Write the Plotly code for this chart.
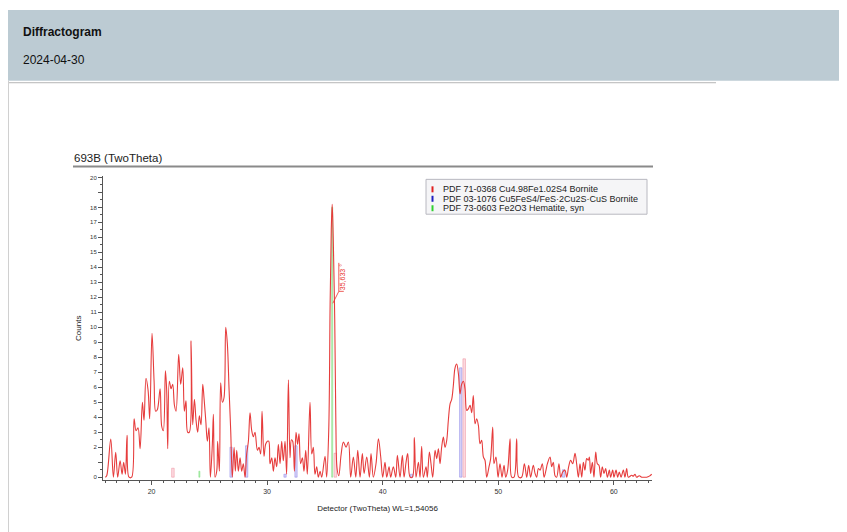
import plotly.graph_objects as go

# measured pattern (2theta in degrees, counts)
two_theta = [
    16.00, 16.12, 16.47, 16.70, 16.90, 17.07, 17.28, 17.45, 17.59, 17.74, 17.88, 18.05, 18.28, 18.49, 18.66, 18.83,
    19.01, 19.21, 19.35, 19.52, 19.70, 19.84, 20.04, 20.22, 20.36, 20.50, 20.74, 20.88, 21.02, 21.20, 21.31, 21.40,
    21.54, 21.69, 21.83, 21.98, 22.12, 22.35, 22.52, 22.70, 22.84, 22.98, 23.13, 23.27, 23.42, 23.56, 23.71, 23.85,
    23.99, 24.14, 24.28, 24.43, 24.54, 24.69, 24.83, 24.97, 25.09, 25.26, 25.35, 25.49, 25.64, 25.72, 25.87, 25.98,
    26.13, 26.27, 26.42, 26.56, 26.71, 26.85, 26.99, 27.14, 27.25, 27.37, 27.51, 27.66, 27.80, 27.94, 28.09, 28.23,
    28.38, 28.52, 28.67, 28.81, 28.95, 29.16, 29.30, 29.44, 29.56, 29.73, 29.87, 30.02, 30.14, 30.25, 30.40, 30.54,
    30.68, 30.83, 30.97, 31.12, 31.26, 31.40, 31.55, 31.69, 31.84, 31.98, 32.10, 32.21, 32.36, 32.50, 32.64, 32.76,
    32.90, 33.05, 33.19, 33.34, 33.48, 33.71, 33.86, 34.00, 34.14, 34.29, 34.43, 34.58, 34.72, 35.01, 35.15, 35.33,
    35.45, 35.55, 35.63, 35.72, 35.85, 35.95, 36.05, 36.20, 36.40, 36.60, 36.83, 37.03, 37.23, 37.46, 37.67, 37.84,
    38.04, 38.24, 38.39, 38.62, 38.85, 38.99, 39.19, 39.42, 39.63, 39.83, 40.00, 40.20, 40.35, 40.55, 40.69, 40.92,
    41.13, 41.27, 41.50, 41.70, 41.85, 42.02, 42.16, 42.37, 42.57, 42.74, 42.88, 43.09, 43.23, 43.37, 43.52, 43.75,
    43.86, 44.04, 44.18, 44.33, 44.53, 44.67, 44.82, 44.96, 45.10, 45.25, 45.39, 45.54, 45.68, 45.83, 45.97, 46.11,
    46.26, 46.40, 46.55, 46.69, 46.83, 46.98, 47.12, 47.27, 47.41, 47.56, 47.70, 47.84, 47.99, 48.13, 48.28, 48.42,
    48.56, 48.71, 48.85, 49.00, 49.20, 49.34, 49.52, 49.63, 49.80, 49.98, 50.15, 50.32, 50.50, 50.64, 50.81, 51.02,
    51.16, 51.36, 51.59, 51.77, 52.02, 52.26, 52.46, 52.63, 52.80, 53.03, 53.18, 53.32, 53.47, 53.61, 53.81, 53.96,
    54.13, 54.25, 54.48, 54.62, 54.76, 54.91, 55.05, 55.25, 55.40, 55.57, 55.77, 55.92, 56.09, 56.26, 56.44, 56.64,
    56.78, 56.93, 57.07, 57.22, 57.36, 57.50, 57.65, 57.79, 57.88, 57.99, 58.14, 58.28, 58.43, 58.57, 58.71, 58.86,
    59.00, 59.15, 59.29, 59.44, 59.61, 59.72, 59.90, 60.01, 60.19, 60.33, 60.47, 60.62, 60.82, 60.96, 61.11, 61.25,
    61.54, 61.68, 61.83, 61.97, 62.20, 62.41, 62.61, 62.84, 63.07, 63.27,
]
counts = [
    0.0, 0.1, 2.55, 0.0, 1.66, 0.0, 1.1, 0.2, 1.0, 0.2, 2.8, 0.0, 0.0, 3.9, 3.1, 3.3,
    1.9, 5.0, 3.8, 6.6, 5.8, 3.9, 9.6, 6.4, 4.4, 4.5, 5.9, 3.4, 3.1, 7.1, 5.8, 1.9,
    6.4, 5.9, 6.2, 4.8, 4.4, 8.2, 6.2, 7.3, 4.4, 5.1, 3.0, 3.0, 9.1, 3.5, 5.2, 3.8,
    3.0, 4.1, 3.5, 6.2, 5.3, 3.8, 2.4, 3.3, 0.0, 2.2, 4.2, 0.0, 0.4, 2.4, 0.4, 6.3,
    5.0, 5.3, 10.0, 8.9, 5.8, 3.1, 0.0, 2.0, 0.4, 1.8, 0.4, 1.3, 0.4, 0.9, 0.0, 1.55,
    2.4, 4.3, 3.1, 2.7, 3.0, 1.8, 2.0, 1.55, 4.4, 1.4, 2.2, 2.4, 2.4, 0.9, 1.3, 0.4,
    1.3, 0.7, 2.2, 0.9, 2.4, 1.1, 2.4, 0.2, 6.5, 1.3, 2.5, 2.4, 0.4, 3.0, 2.2, 2.9,
    0.9, 1.3, 0.4, 1.8, 0.2, 5.0, 1.55, 2.0, 0.2, 0.7, 0.0, 0.4, 0.0, 1.4, 0.0, 3.1,
    11.5, 16.5, 18.2, 16.0, 10.5, 3.5, 0.6, 0.1, 1.5, 2.35, 2.0, 2.35, 0.0, 1.35, 0.0, 1.8,
    0.0, 1.57, 0.25, 1.35, 0.0, 1.57, 0.0, 0.9, 2.57, 1.35, 0.0, 1.0, 0.0, 0.7, 0.0, 0.7,
    0.0, 1.46, 0.0, 1.46, 0.0, 1.0, 1.57, 0.0, 0.0, 2.64, 0.0, 1.0, 0.0, 2.06, 0.0, 0.7,
    0.0, 1.68, 0.9, 0.0, 1.8, 1.24, 1.9, 0.9, 2.0, 2.68, 2.0, 2.46, 3.8, 4.9, 5.2, 6.1,
    7.3, 7.55, 6.9, 5.56, 6.2, 6.4, 5.9, 4.45, 4.56, 4.8, 4.3, 5.45, 3.57, 3.9, 3.45, 2.24,
    2.46, 1.35, 1.13, 0.0, 0.7, 1.24, 3.34, 0.9, 1.35, 0.0, 0.9, 0.0, 0.8, 0.0, 0.47, 2.57,
    0.0, 0.0, 2.57, 0.0, 0.0, 0.9, 0.0, 0.8, 0.0, 0.8, 0.25, 0.0, 0.58, 0.47, 0.9, 0.0,
    0.47, 0.9, 1.35, 0.7, 1.0, 0.1, 0.0, 0.9, 0.0, 0.35, 0.47, 0.0, 0.7, 1.13, 0.9, 1.6,
    0.9, 0.0, 0.9, 0.0, 1.0, 0.47, 1.24, 1.13, 1.35, 0.25, 1.0, 0.0, 1.68, 0.9, 0.8, 0.0,
    0.7, 0.25, 0.58, 0.0, 0.47, 0.0, 0.47, 0.0, 0.47, 0.0, 0.35, 0.0, 0.47, 0.0, 0.58, 0.0,
    0.13, 0.07, 0.2, 0.0, 0.1, 0.0, 0.0, 0.0, 0.07, 0.2,
]

# reference patterns (stick positions / heights)
phase_names = [
    "PDF 71-0368 Cu4.98Fe1.02S4 Bornite",
    "PDF 03-1076 Cu5FeS4/FeS·2Cu2S·CuS Bornite",
    "PDF 73-0603 Fe2O3 Hematite, syn",
]
red_pos = [21.85, 35.90, 47.05]
red_h = [0.6, 1.6, 7.9]
blue_pos = [26.88, 28.23, 31.55, 32.50, 42.50, 46.75, 55.65]
blue_h = [2.0, 2.1, 0.2, 2.1, 0.2, 7.3, 0.5]
green_pos = [24.14, 35.63]
green_h = [0.4, 18.0]

peak_pos = 35.633
peak_label = "35,633 °"

x_ticks = [20, 30, 40, 50, 60]
y_ticks = list(range(0, 21))
y_tick_text = ["" if v in (1, 19) else str(v) for v in y_ticks]

W, H = 839, 524
def px(sx):
    return (sx - 8) / W
def py(sy):
    return 1 - (sy - 8) / H

FONT = "Liberation Sans, Arial, sans-serif"

fig = go.Figure()

stick_styles = [
    (red_pos, red_h, 0.22, "rgba(245,150,165,0.35)", "rgba(230,90,110,0.55)"),
    (blue_pos, blue_h, 0.2, "rgba(140,130,235,0.35)", "rgba(90,80,220,0.55)"),
    (green_pos, green_h, 0.1, "rgba(120,225,120,0.55)", "rgba(100,215,100,0.6)"),
]
for (pos, h, w, fill, edge), name in zip(stick_styles, phase_names):
    fig.add_trace(go.Bar(x=pos, y=h, width=w, name=name, showlegend=False,
                         marker=dict(color=fill, line=dict(color=edge, width=0.6))))

fig.add_trace(go.Scatter(x=two_theta, y=counts, mode="lines", showlegend=False,
                         line=dict(color="#e63c3c", width=1.1, shape="spline", smoothing=1.0)))

axis_common = dict(showline=True, linecolor="#555", linewidth=1, showgrid=False, zeroline=False,
                   ticks="outside", ticklen=4, tickcolor="#555", tickwidth=1)

fig.update_layout(
    width=W, height=H,
    margin=dict(l=0, r=0, t=0, b=0),
    paper_bgcolor="white", plot_bgcolor="white",
    barmode="overlay",
    font=dict(family=FONT, color="#222"),
    xaxis=dict(domain=[px(103), px(652)], range=[15.8, 63.3], tickvals=x_ticks,
               tickfont=dict(size=7, color="#333"),
               minor=dict(dtick=1, ticklen=2, tickcolor="#555", ticks="outside"),
               title=dict(text="Detector (TwoTheta) WL=1,54056", font=dict(size=8, color="#222"), standoff=11),
               **axis_common),
    yaxis=dict(domain=[py(480), py(175)], range=[-0.2, 20.07], tickvals=y_ticks, ticktext=y_tick_text,
               tickfont=dict(size=6, color="#333"),
               minor=dict(dtick=0.5, ticklen=2, tickcolor="#555", ticks="outside"),
               title=dict(text="Counts", font=dict(size=8, color="#222"), standoff=7),
               **axis_common),
)

shapes = [
    # header panel
    dict(type="rect", xref="paper", yref="paper", x0=0, x1=px(845), y0=py(79), y1=1,
         fillcolor="#bccbd3", line=dict(width=0), layer="below"),
    dict(type="line", xref="paper", yref="paper", x0=0, x1=px(716), y0=py(81), y1=py(81),
         line=dict(color="#b5b5b5", width=1)),
    dict(type="line", xref="paper", yref="paper", x0=px(8.5), x1=px(8.5), y0=0, y1=py(79),
         line=dict(color="#d0d0d0", width=1)),
    dict(type="line", xref="paper", yref="paper", x0=px(843), x1=px(843), y0=0, y1=py(79),
         line=dict(color="#e0e0e0", width=1)),
    # rule under chart title
    dict(type="line", xref="paper", yref="paper", x0=px(73), x1=px(653), y0=py(165), y1=py(165),
         line=dict(color="#8a8a8a", width=2)),
    # legend box
    dict(type="rect", xref="paper", yref="paper", x0=px(426), x1=px(647), y0=py(213), y1=py(178),
         fillcolor="#f5f5f7", line=dict(color="#b8b8c0", width=1)),
    # peak marker
    dict(type="line", xref="x", yref="y", x0=peak_pos + 0.05, y0=11.6, x1=peak_pos + 0.57, y1=12.4,
         line=dict(color="#e8322d", width=0.8)),
    dict(type="line", xref="x", yref="y", x0=peak_pos + 0.57, y0=12.4, x1=peak_pos + 0.57, y1=14.3,
         line=dict(color="#e8322d", width=0.8)),
    dict(type="line", xref="x", yref="y", x0=peak_pos + 0.57, y0=12.4, x1=peak_pos + 1.0, y1=12.4,
         line=dict(color="#e8322d", width=0.8)),
]

legend_colors = ["#e02020", "#2020c0", "#30d030"]
rows = [188, 197.5, 207]
annotations = [
    dict(text="<b>Diffractogram</b>", x=px(21), y=py(30), xanchor="left", yanchor="middle",
         font=dict(size=12, color="#111")),
    dict(text="2024-04-30", x=px(21), y=py(58), xanchor="left", yanchor="middle",
         font=dict(size=12, color="#111")),
    dict(text="693B (TwoTheta)", x=px(72), y=py(157), xanchor="left", yanchor="middle",
         font=dict(size=11.5, color="#222")),
    dict(text=peak_label, xref="x", yref="y", x=peak_pos + 0.85, y=13.35, textangle=-90,
         showarrow=False, font=dict(size=7, color="#e8322d")),
]
for name, color, sy in zip(phase_names, legend_colors, rows):
    shapes.append(dict(type="rect", xref="paper", yref="paper", x0=px(431.5), x1=px(433.5),
                       y0=py(sy + 3), y1=py(sy - 3), fillcolor=color, line=dict(width=0)))
    annotations.append(dict(text=name, x=px(441), y=py(sy), xanchor="left", yanchor="middle",
                            font=dict(size=9, color="#222")))
for a in annotations:
    a.setdefault("xref", "paper")
    a.setdefault("yref", "paper")
    a.setdefault("showarrow", False)

fig.update_layout(shapes=shapes, annotations=annotations)

fig.write_html("out.html")
